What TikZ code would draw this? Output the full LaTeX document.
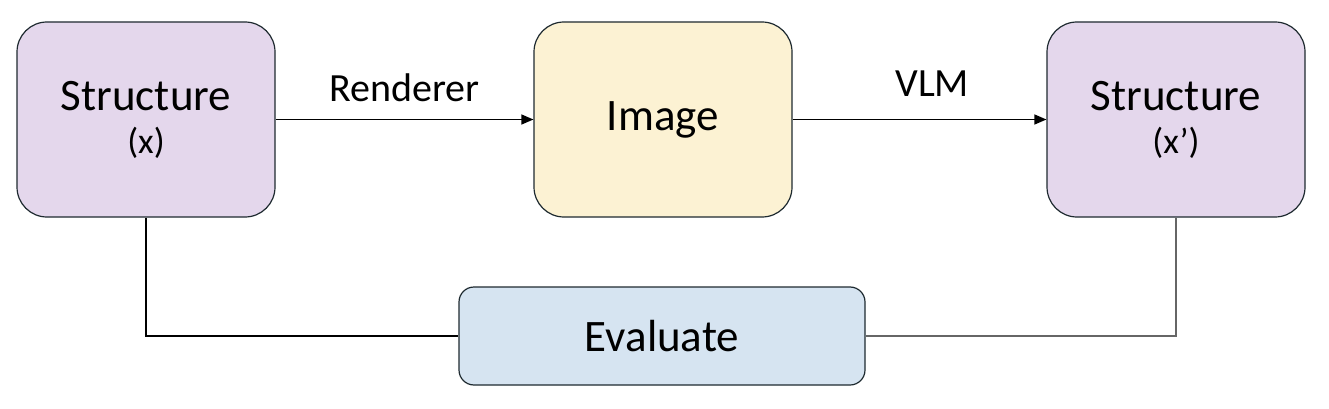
\documentclass[tikz,border=0pt]{standalone}
\usepackage{fontspec}
\setmainfont{Carlito}
\usetikzlibrary{arrows.meta}
\definecolor{purplefill}{HTML}{E4D7EC}
\definecolor{yellowfill}{HTML}{FCF2D3}
\definecolor{bluefill}{HTML}{D6E4F1}
\definecolor{edgegray}{HTML}{1E2A30}
\tikzset{
  bigbox/.style={draw=edgegray, line width=1.2pt, rounded corners=30pt,
    minimum width=258pt, minimum height=195pt, inner sep=0pt, align=center,
    font=\fontsize{45}{43}\selectfont},
  evalbox/.style={draw=edgegray, line width=1.2pt, rounded corners=15pt,
    minimum width=406pt, minimum height=98pt, inner sep=0pt, fill=bluefill,
    font=\fontsize{45}{45}\selectfont},
  conn/.style={line width=1.2pt, draw=black},
  arr/.style={conn, -{Triangle[length=12pt,width=10pt]}},
  lbl/.style={font=\fontsize{40}{40}\selectfont, inner sep=0pt}
}
\begin{document}
\begin{tikzpicture}[x=1pt,y=-1pt]
\useasboundingbox (0,0) rectangle (1329,409);
\node[bigbox, fill=purplefill] (s1) at (146,119.5)
  {Structure\\{\fontsize{36}{43}\selectfont (x)}};
\node[bigbox, fill=yellowfill] (img) at (663,119.5) {Image};
\node[bigbox, fill=purplefill] (s2) at (1176,119.5)
  {Structure\\{\fontsize{36}{43}\selectfont (x’)}};
\node[evalbox] (ev) at (662,336) {Evaluate};
\draw[arr] (s1) -- node[lbl, above=17pt] (lr) {Renderer} (img);
\draw[arr] (img) -- node[lbl, above=22pt, pos=0.55] (lv) {VLM} (s2);
\draw[conn] (s1.south) |- (ev.west);
\draw[conn, draw=black!60] (s2.south) |- (ev.east);
\end{tikzpicture}
\end{document}
